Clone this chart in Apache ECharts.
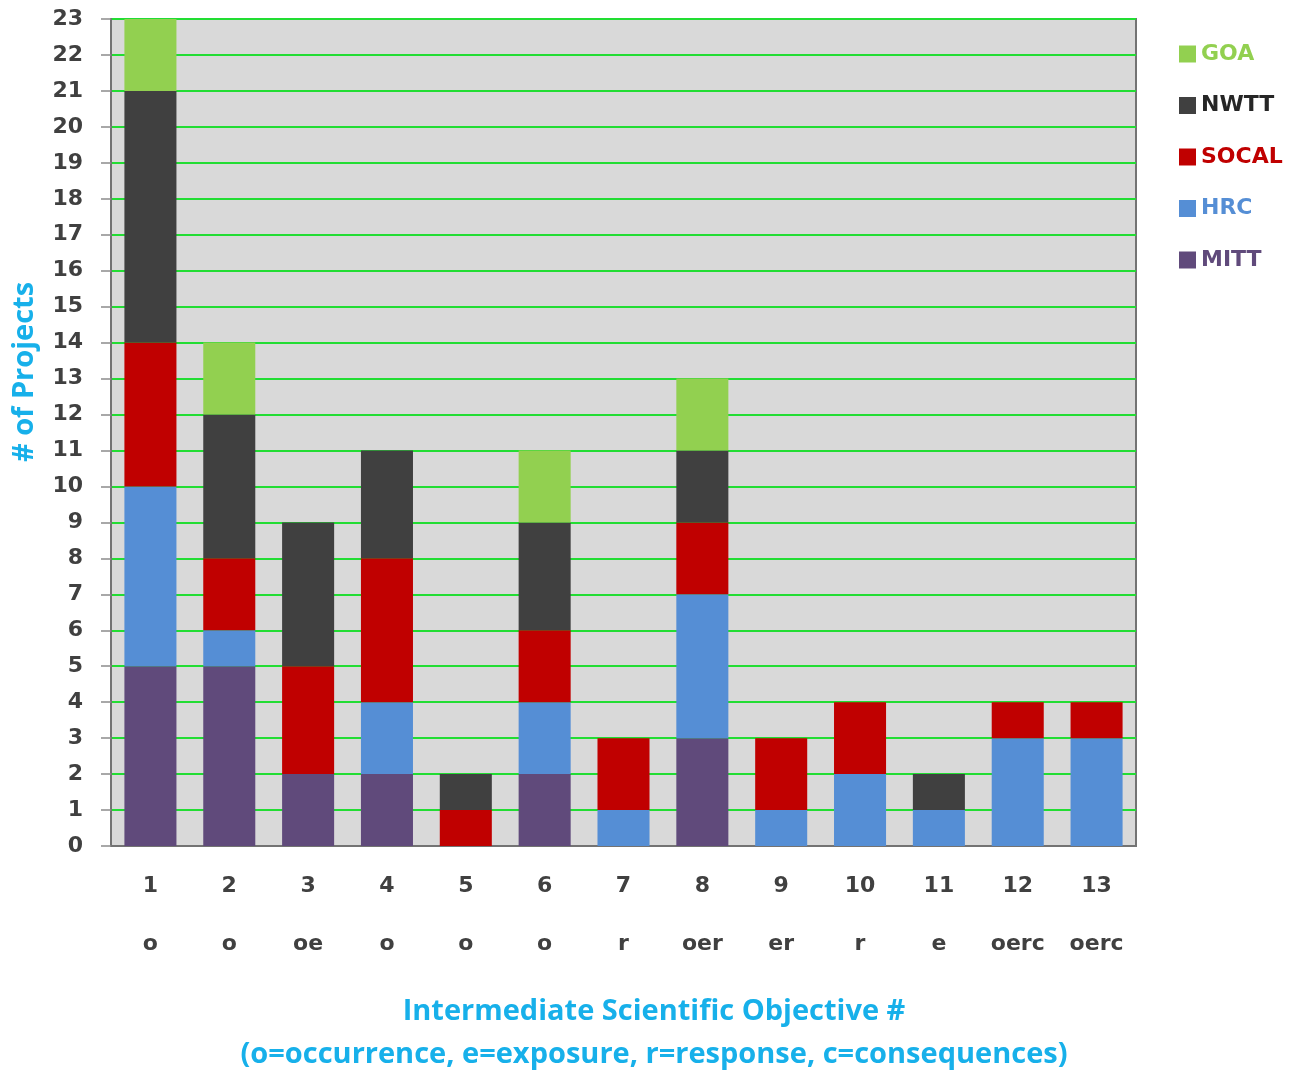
<!DOCTYPE html>
<html>
<head>
<meta charset="utf-8">
<script src="https://cdn.jsdelivr.net/npm/echarts@6/dist/echarts.min.js"></script>
<style>
  html, body { margin: 0; padding: 0; background: #ffffff; }
  #chart { width: 1294px; height: 1072px; }
</style>
</head>
<body>
<div id="chart"></div>
<script>
// Intermediate Scientific Objective numbers and their o/e/r/c codes
const categories = ['1', '2', '3', '4', '5', '6', '7', '8', '9', '10', '11', '12', '13'];
const codes = ['o', 'o', 'oe', 'o', 'o', 'o', 'r', 'oer', 'er', 'r', 'e', 'oerc', 'oerc'];

// Project counts per program, stacked bottom to top
const mitt  = [5, 5, 2, 2, 0, 2, 0, 3, 0, 0, 0, 0, 0];
const hrc   = [5, 1, 0, 2, 0, 2, 1, 4, 1, 2, 1, 3, 3];
const socal = [4, 2, 3, 4, 1, 2, 2, 2, 2, 2, 0, 1, 1];
const nwtt  = [7, 4, 4, 3, 1, 3, 0, 2, 0, 0, 1, 0, 0];
const goa   = [2, 2, 0, 0, 0, 2, 0, 2, 0, 0, 0, 0, 0];

const yMax = 23;

const colors = {
  GOA: '#92d050',
  NWTT: '#404040',
  SOCAL: '#c00000',
  HRC: '#558ed5',
  MITT: '#604a7b'
};
const legendTextColors = {
  GOA: '#92d050',
  NWTT: '#262626',
  SOCAL: '#c00000',
  HRC: '#558ed5',
  MITT: '#604a7b'
};

const stackSeries = [
  ['MITT', mitt], ['HRC', hrc], ['SOCAL', socal], ['NWTT', nwtt], ['GOA', goa]
].map(([name, data]) => ({
  name: name,
  type: 'bar',
  stack: 'projects',
  barWidth: '66%',
  data: data,
  itemStyle: { color: colors[name] },
  emphasis: { disabled: true }
}));

const labelFont = '"DejaVu Sans", Verdana, sans-serif';
const titleFont = '"Liberation Sans Narrow", "Open Sans", sans-serif';
const titleColor = '#17b0ea';

const chart = echarts.init(document.getElementById('chart'), null, { renderer: 'canvas' });

chart.setOption({
  animation: false,
  backgroundColor: '#ffffff',
  grid: {
    left: 111, right: 158, top: 19, bottom: 226,
    show: true,
    backgroundColor: '#d9d9d9',
    borderColor: '#737373',
    borderWidth: 2
  },
  legend: {
    orient: 'vertical',
    left: 1174,
    top: 38,
    itemWidth: 17,
    itemHeight: 17,
    itemGap: 29.5,
    icon: 'rect',
    data: ['GOA', 'NWTT', 'SOCAL', 'HRC', 'MITT'].map(n => ({
      name: n,
      textStyle: { color: legendTextColors[n] }
    })),
    textStyle: {
      fontFamily: labelFont,
      fontWeight: 'bold',
      fontSize: 22,
      lineHeight: 21,
      padding: [0, 0, 0, 0]
    }
  },
  xAxis: {
    type: 'category',
    data: categories,
    axisLine: { show: true, lineStyle: { color: '#737373', width: 2 } },
    axisTick: { show: false },
    splitLine: { show: false },
    axisLabel: {
      margin: 11,
      interval: 0,
      formatter: (v, i) => '{n|' + v + '}\n{c|' + codes[i] + '}',
      rich: {
        n: {
          fontFamily: labelFont, fontWeight: 'bold', fontSize: 22,
          color: '#404040', lineHeight: 58, align: 'center'
        },
        c: {
          fontFamily: labelFont, fontWeight: 'bold', fontSize: 22,
          color: '#404040', lineHeight: 58, align: 'center'
        }
      }
    }
  },
  yAxis: {
    type: 'value',
    min: 0,
    max: yMax,
    interval: 1,
    axisLine: { show: true, lineStyle: { color: '#737373', width: 2 } },
    axisTick: { show: true, inside: false, length: 10, lineStyle: { color: '#8c8c8c', width: 1.5 } },
    splitLine: { show: true, lineStyle: { color: '#22dd33', width: 2 } },
    axisLabel: {
      margin: 28,
      fontFamily: labelFont,
      fontWeight: 'bold',
      fontSize: 22,
      color: '#404040'
    }
  },
  graphic: [
    {
      type: 'text',
      x: 25,
      y: 372,
      rotation: Math.PI / 2,
      style: {
        text: '# of Projects',
        fill: titleColor,
        font: 'bold 29px ' + titleFont,
        align: 'center',
        verticalAlign: 'middle'
      }
    },
    {
      type: 'text',
      x: 654,
      y: 1012,
      style: {
        text: 'Intermediate Scientific Objective #',
        fill: titleColor,
        font: 'bold 29px ' + titleFont,
        align: 'center',
        verticalAlign: 'middle'
      }
    },
    {
      type: 'text',
      x: 654,
      y: 1055,
      style: {
        text: '(o=occurrence, e=exposure, r=response, c=consequences)',
        fill: titleColor,
        font: 'bold 29px ' + titleFont,
        align: 'center',
        verticalAlign: 'middle'
      }
    }
  ],
  series: stackSeries
});
</script>
</body>
</html>
